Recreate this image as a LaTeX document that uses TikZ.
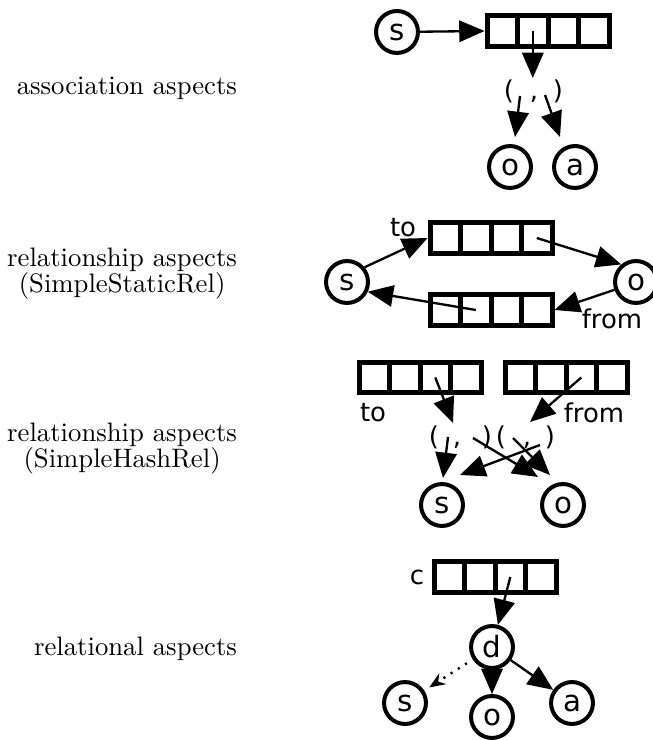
\documentclass[tikz,border=0pt]{standalone}
\usepackage{fontspec}
\newfontfamily\sansf{DejaVu Sans}
\usetikzlibrary{arrows.meta}
\tikzset{
  cell/.style={draw, line width=1.85pt, minimum size=11.42pt, inner sep=0pt},
  ball/.style={circle, draw, line width=1.5pt, minimum size=15.7pt, inner sep=0pt, font=\sansf\fontsize{11}{12}\selectfont},
  sf/.style={font=\sansf\fontsize{9.7}{11}\selectfont, inner sep=0pt},
  arr/.style={line width=0.87pt, -{Triangle[length=9.5pt,width=8pt]}},
  dotarr/.style={line width=0.9pt, dash pattern=on 0.8pt off 2.4pt, -{Stealth[length=6pt,width=4.8pt,inset=2pt]}},
  lbl/.style={font=\fontsize{10}{9.7}\selectfont, align=center, inner sep=0pt}
}
\begin{document}
\begin{tikzpicture}[x=0.3745pt,y=-0.3745pt]
\useasboundingbox (0,0) rectangle (652,740);

% ---------- labels ----------
\node[lbl, anchor=base east] (L1) at (237.5,95) {association aspects};
\node[lbl, anchor=east] (L2) at (237.5,274) {relationship aspects\\(SimpleStaticRel)};
\node[lbl, anchor=east] (L3) at (237.5,449) {relationship aspects\\(SimpleHashRel)};
\node[lbl, anchor=base east] (L4) at (237.5,655) {relational aspects};

% ---------- section 1 ----------
\node[ball] (s1) at (397,32) {s};
\node[cell] (a11) at (502.3,31) {};
\node[cell] (a12) at (532.8,31) {};
\node[cell] (a13) at (563.3,31) {};
\node[cell] (a14) at (593.8,31) {};
\node[sf, anchor=base] (lp1) at (509,100) {(};
\node[sf, anchor=base] (cm1) at (534,100) {,};
\node[sf, anchor=base] (rp1) at (558,100) {)};
\node[ball] (o1) at (510,167) {o};
\node[ball] (aa1) at (575,167) {a};
\coordinate (t1) at (532.8,78);
\coordinate (u1) at (520,96);
\coordinate (v1) at (515,137);
\coordinate (u2) at (545,95);
\coordinate (v2) at (560,137);
\draw[arr] (s1) -- (a11.west);
\draw[arr] (a12.center) -- (t1);
\draw[arr] (u1) -- (v1);
\draw[arr] (u2) -- (v2);

% ---------- section 2 ----------
\node[ball] (s2) at (347,282) {s};
\node[ball] (o2) at (636,282) {o};
\node[cell] (b11) at (445.3,238) {};
\node[cell] (b12) at (475.8,238) {};
\node[cell] (b13) at (506.3,238) {};
\node[cell] (b14) at (536.8,238) {};
\node[cell] (b21) at (445.3,310) {};
\node[cell] (b22) at (475.8,310) {};
\node[cell] (b23) at (506.3,310) {};
\node[cell] (b24) at (536.8,310) {};
\node[sf] (to2) at (403,228) {to};
\node[sf] (from2) at (612,319) {from};
\draw[arr] (s2.40) -- (b11.west);
\draw[arr] (b14.center) -- (o2.130);
\draw[arr] (o2.200) -- (b24.east);
\draw[arr] (b22.center) -- (s2.-25);

% ---------- section 3 ----------
\node[cell] (c11) at (374.3,377.5) {};
\node[cell] (c12) at (404.8,377.5) {};
\node[cell] (c13) at (435.3,377.5) {};
\node[cell] (c14) at (465.8,377.5) {};
\node[cell] (d11) at (520.3,377.5) {};
\node[cell] (d12) at (550.8,377.5) {};
\node[cell] (d13) at (581.3,377.5) {};
\node[cell] (d14) at (611.8,377.5) {};
\node[sf] (to3) at (373,413) {to};
\node[sf] (from3) at (594,413) {from};
\node[sf, anchor=base] (lp3) at (434,445) {(};
\node[sf, anchor=base] (cm3) at (457,445) {,};
\node[sf, anchor=base] (rp3) at (487,445) {)};
\node[sf, anchor=base] (lp4) at (501,445) {(};
\node[sf, anchor=base] (cm4) at (527,445) {,};
\node[sf, anchor=base] (rp4) at (550,445) {)};
\node[ball] (s3) at (442,505) {s};
\node[ball] (o3) at (563,505) {o};
\coordinate (p1) at (453,423);
\coordinate (p2) at (530,422);
\coordinate (q1) at (448,437);
\coordinate (q1e) at (443,478);
\coordinate (q2) at (473,438);
\coordinate (q2e) at (538,477);
\coordinate (q3) at (513,438);
\coordinate (q3e) at (550,475);
\coordinate (q4) at (540,445);
\coordinate (q4e) at (460,475);
\draw[arr] (c13.center) -- (p1);
\draw[arr] (d13.center) -- (p2);
\draw[arr] (q1) -- (q1e);
\draw[arr] (q2) -- (q2e);
\draw[arr] (q3) -- (q3e);
\draw[arr] (q4) -- (q4e);

% ---------- section 4 ----------
\node[sf] (c4) at (417,577) {c};
\node[cell] (e11) at (449.3,577) {};
\node[cell] (e12) at (479.8,577) {};
\node[cell] (e13) at (510.3,577) {};
\node[cell] (e14) at (540.8,577) {};
\node[ball] (d4) at (492,647) {d};
\node[ball] (s4) at (405,703) {s};
\node[ball] (o4) at (492,717) {o};
\node[ball] (a4) at (572,703) {a};
\draw[arr] (e13.center) -- (d4.75);
\draw[dotarr, shorten <=2.6pt, shorten >=2.2pt] (d4) -- (s4);
\draw[arr] (d4) -- (o4);
\draw[arr] (d4) -- (a4);
\end{tikzpicture}
\end{document}
